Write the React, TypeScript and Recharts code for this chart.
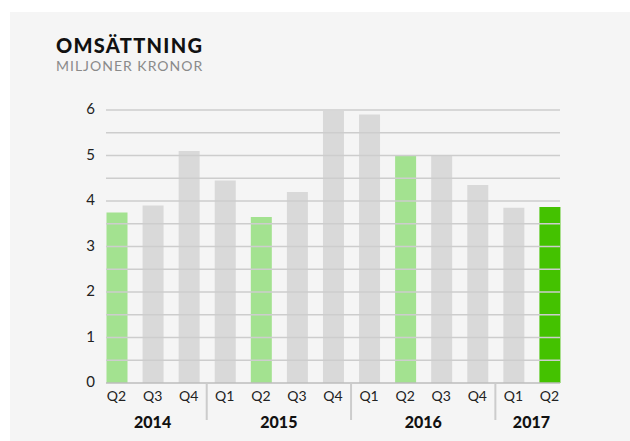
import React from 'react';
import { BarChart, Bar, XAxis, YAxis, Cell, ReferenceLine } from 'recharts';

const quarters = ['Q2', 'Q3', 'Q4', 'Q1', 'Q2', 'Q3', 'Q4', 'Q1', 'Q2', 'Q3', 'Q4', 'Q1', 'Q2'];
const years = ['2014', '2014', '2014', '2015', '2015', '2015', '2015', '2016', '2016', '2016', '2016', '2017', '2017'];
const revenue = [3.75, 3.9, 5.1, 4.45, 3.65, 4.2, 5.98, 5.9, 5.0, 5.0, 4.35, 3.85, 3.87];
const yTicks = [0, 1, 2, 3, 4, 5, 6];
const gridValues = [0.5, 1, 1.5, 2, 2.5, 3, 3.5, 4, 4.5, 5, 5.5, 6];

const data = quarters.map((q, i) => ({ key: `${years[i]} ${q}`, q, year: years[i], value: revenue[i] }));

const GRAY = '#d9d9d9';
const LIGHT_GREEN = '#a3e290';
const GREEN = '#44c200';
const FONT = 'Lato, "Open Sans", sans-serif';

const colorFor = (i: number) => {
  if (i === data.length - 1) return GREEN;
  if (quarters[i] === 'Q2') return LIGHT_GREEN;
  return GRAY;
};

const XTick = (props: any) => {
  const { x, y, payload, index } = props;
  const i = payload.index ?? index;
  const half = payload.offset ?? 18;
  const d = data[i];
  const isFirst = i === 0 || years[i - 1] !== years[i];
  let yearLabel = null;
  let sep = null;
  if (isFirst) {
    const n = years.filter((yy) => yy === years[i]).length;
    const start = x - half;
    const center = start + n * half;
    yearLabel = (
      <text x={center} y={y + 45} textAnchor="middle" fill="#111" fontFamily={FONT} fontWeight={900} fontSize={16}>
        {years[i]}
      </text>
    );
    if (i > 0) {
      sep = <line x1={start} x2={start} y1={y + 1} y2={y + 37} stroke="#cccccc" strokeWidth={2} />;
    }
  }
  return (
    <g>
      <text x={x} y={y + 18} textAnchor="middle" fill="#222" fontFamily={FONT} fontSize={14}>
        {d ? d.q : ''}
      </text>
      {yearLabel}
      {sep}
    </g>
  );
};

const YTick = (props: any) => {
  const { x, y, payload } = props;
  return (
    <text x={x} y={y + 4} textAnchor="end" fill="#222" fontFamily={FONT} fontSize={15}>
      {payload.value}
    </text>
  );
};

export default function App() {
  return (
    <div style={{ position: 'absolute', left: 0, top: 0, width: 630, height: 441, background: '#ffffff', overflow: 'hidden' }}>
      <div style={{ position: 'absolute', left: 10, top: 12, right: 0, bottom: 0, background: '#f5f5f5' }} />
      <div style={{ position: 'absolute', left: 56, top: 35, fontFamily: FONT, fontWeight: 900, fontSize: 20, color: '#111', lineHeight: '20px', letterSpacing: 1.3, whiteSpace: 'nowrap' }}>
        OMSÄTTNING
      </div>
      <div style={{ position: 'absolute', left: 56, top: 59, fontFamily: FONT, fontSize: 14, color: '#8a8a8a', lineHeight: '14px', letterSpacing: 1.0, whiteSpace: 'nowrap' }}>
        MILJONER KRONOR
      </div>
      <div style={{ position: 'absolute', left: 0, top: 0 }}>
        <BarChart width={630} height={441} data={data} margin={{ top: 110, right: 70, bottom: 8, left: 56 }} barSize={21}>
          {gridValues.map((v) => (
            <ReferenceLine key={v} y={v} stroke="#cdcdcd" strokeWidth={1.5} />
          ))}
          <XAxis
            dataKey="key"
            interval={0}
            height={50}
            padding={{ left: -7.5, right: -7.5 }}
            tickLine={false}
            tickSize={0}
            tickMargin={0}
            axisLine={{ stroke: '#bdbdbd', strokeWidth: 1.5 }}
            tick={<XTick />}
          />
          <YAxis
            width={50}
            domain={[0, 6]}
            ticks={yTicks}
            interval={0}
            axisLine={false}
            tickLine={false}
            tickSize={0}
            tickMargin={11}
            tick={<YTick />}
          />
          <Bar dataKey="value" isAnimationActive={false}>
            {data.map((d, i) => (
              <Cell key={d.key} fill={colorFor(i)} />
            ))}
          </Bar>
        </BarChart>
      </div>
    </div>
  );
}
